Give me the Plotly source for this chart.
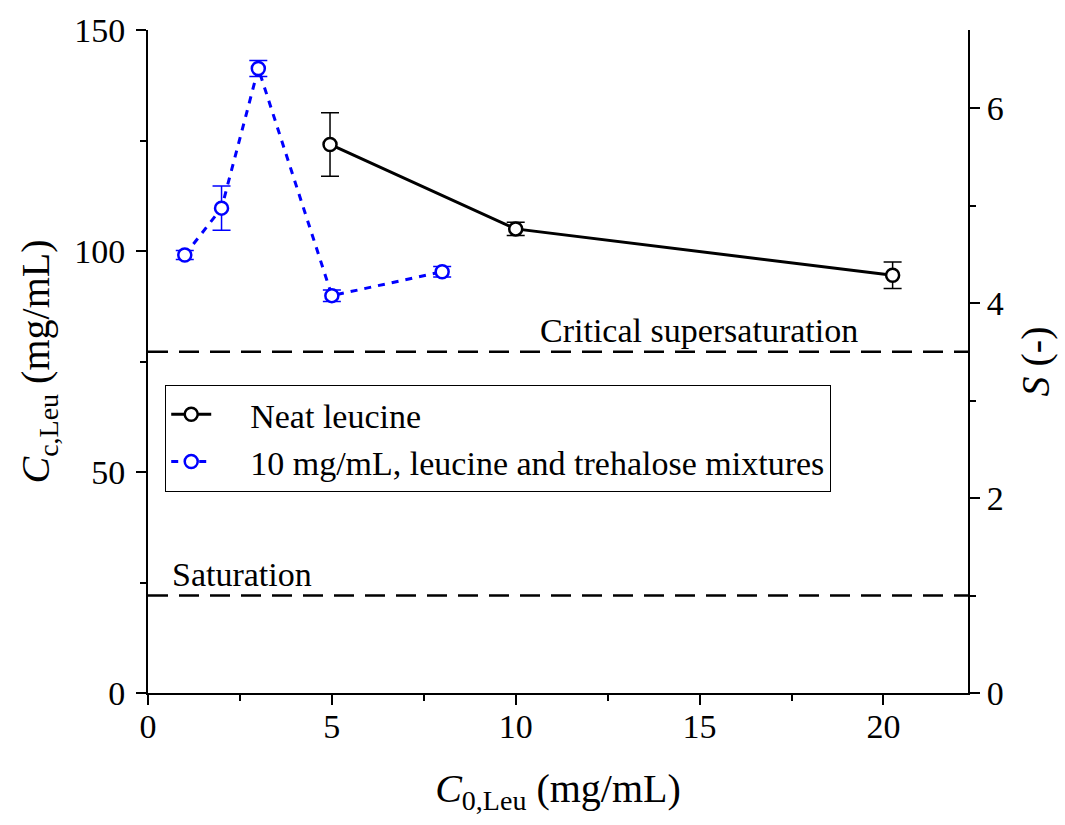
import plotly.graph_objects as go

# ---- data ----
neat_x = [4.95, 10.0, 20.25]
neat_y = [124.1, 105.0, 94.5]
neat_err = [7.2, 1.5, 3.0]

mix_x = [1.0, 2.0, 3.0, 5.0, 8.0]
mix_y = [99.1, 109.7, 141.3, 89.9, 95.3]
mix_err = [1.0, 5.0, 1.8, 1.3, 1.2]

sat_S = 1.0
crit_S = 3.5
x_range = [0, 22.3]
y_range = [0, 150]
s_range = [0, 6.8]

FONT = "Liberation Serif, Times New Roman, serif"
FS = 34
TFS = 40
PAD = "&nbsp;" * 4

fig = go.Figure()

fig.add_trace(go.Scatter(
    x=neat_x, y=neat_y, mode="lines+markers", name=PAD + "Neat leucine",
    line=dict(color="black", width=3),
    marker=dict(symbol="circle", size=13, color="white", line=dict(color="black", width=2.5)),
    error_y=dict(type="data", array=neat_err, color="black", thickness=1.5, width=9),
))
fig.add_trace(go.Scatter(
    x=mix_x, y=mix_y, mode="lines+markers", name=PAD + "10 mg/mL, leucine and trehalose mixtures",
    line=dict(color="#0000ff", width=3, dash="7px,7px"),
    marker=dict(symbol="circle", size=13, color="white", line=dict(color="#0000ff", width=2.5)),
    error_y=dict(type="data", array=mix_err, color="#0000ff", thickness=1.5, width=9),
))

for s in (crit_S, sat_S):
    fig.add_trace(go.Scatter(
        x=x_range, y=[s, s], yaxis="y2", mode="lines", showlegend=False,
        line=dict(color="black", width=2.5, dash="20px,11px"), hoverinfo="skip",
    ))

fig.add_annotation(x=0.476, y=crit_S, xref="paper", yref="y2", text="Critical supersaturation",
                   showarrow=False, xanchor="left", yanchor="bottom", yshift=1,
                   font=dict(family=FONT, size=FS, color="black"))
fig.add_annotation(x=0.027, y=sat_S, xref="paper", yref="y2", text="Saturation",
                   showarrow=False, xanchor="left", yanchor="bottom", yshift=1,
                   font=dict(family=FONT, size=FS, color="black"))

axis_common = dict(
    showline=True, linecolor="black", linewidth=2, ticks="outside", ticklen=10,
    tickwidth=2, tickcolor="black", showgrid=False, zeroline=False,
    tickfont=dict(family=FONT, size=FS, color="black"),
)

fig.update_layout(
    width=1065, height=825,
    margin=dict(l=148, r=97, t=30, b=132),
    plot_bgcolor="white", paper_bgcolor="white",
    font=dict(family=FONT, size=FS, color="black"),
    xaxis=dict(range=x_range, tickvals=[0, 5, 10, 15, 20], ticklabelstandoff=-8,
               minor=dict(tickvals=[2.5, 7.5, 12.5, 17.5, 22.5], ticks="outside", ticklen=6, tickwidth=2, tickcolor="black"),
               title=dict(text="<i>C</i><sub>0,Leu</sub> (mg/mL)", font=dict(family=FONT, size=TFS), standoff=30),
               **axis_common),
    yaxis=dict(range=y_range, tickvals=[0, 50, 100, 150], ticklabelstandoff=4,
               minor=dict(tickvals=[25, 75, 125], ticks="outside", ticklen=6, tickwidth=2, tickcolor="black"),
               title=dict(text="<i>C</i><sub>c,Leu</sub> (mg/mL)", font=dict(family=FONT, size=TFS), standoff=12),
               **axis_common),
    yaxis2=dict(range=s_range, overlaying="y", side="right", tickvals=[0, 2, 4, 6],
                minor=dict(tickvals=[1, 3, 5], ticks="outside", ticklen=6, tickwidth=2, tickcolor="black"),
                title=dict(text="<i>S</i> (-)", font=dict(family=FONT, size=TFS), standoff=18),
                **axis_common),
    legend=dict(x=0.021, y=0.465, xanchor="left", yanchor="top",
                bordercolor="black", borderwidth=1, bgcolor="white",
                font=dict(family=FONT, size=FS, color="black"),
                tracegroupgap=0, itemwidth=40),
    showlegend=True,
)

fig.write_html("out.html")
